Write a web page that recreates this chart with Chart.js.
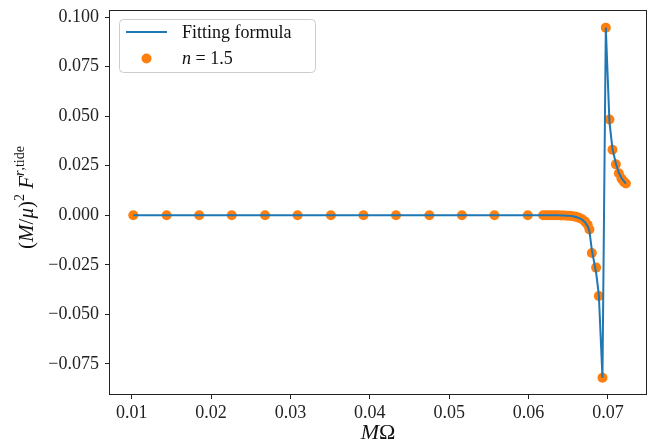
<!DOCTYPE html>
<html lang="en">
<head>
    <meta charset="UTF-8">
    <title>Fitting formula vs n = 1.5</title>
    <script src="https://cdn.jsdelivr.net/npm/chart.js"></script>
    <style>
        body { margin: 0; background: #fff; }
        #wrap { width: 652px; height: 443px; position: relative; }
    </style>
</head>
<body>
    <div id="wrap"><canvas id="chart"></canvas></div>

    <script>
        // M*Omega values of the n = 1.5 points
        var omegaX = [
            0.0102, 0.0144, 0.0185, 0.0226, 0.0268, 0.0309, 0.0351, 0.0392, 0.0433, 0.0475,
            0.0516, 0.0557, 0.0599,
            0.06183, 0.06221, 0.06259, 0.06297, 0.06335, 0.06372, 0.06410, 0.06448, 0.06486,
            0.06523, 0.06561, 0.06599, 0.06637, 0.06675, 0.06712, 0.06744, 0.06767,
            0.06797, 0.06851, 0.06885, 0.06931, 0.06973, 0.07019, 0.07057, 0.07100, 0.07137,
            0.07170, 0.07200, 0.07226
        ];
        // (M/mu)^2 F^{r,tide} of the n = 1.5 points
        var forceN15 = [
            0, 0, 0, 0, 0, 0, 0, 0, 0, 0,
            0, 0, 0,
            0, 0, 0, 0, 0, 0, -0.0001, -0.0001, -0.0002,
            -0.0003, -0.0005, -0.0008, -0.0013, -0.0020, -0.0032, -0.0048, -0.0072,
            -0.0190, -0.0264, -0.0407, -0.0820, 0.0947, 0.0483, 0.0331, 0.0257, 0.0212,
            0.0185, 0.0170, 0.0160
        ];
        // fitting formula evaluated at the same frequencies
        var forceFit = [
            0, 0, 0, 0, 0, 0, 0, 0, 0, 0,
            0, 0, 0,
            0, 0, 0, 0, 0, 0, -0.0001, -0.0001, -0.0002,
            -0.0003, -0.0005, -0.0009, -0.0014, -0.0022, -0.0036, -0.0055, -0.0080,
            -0.0175, -0.0290, -0.0400, -0.0820, 0.0947, 0.0470, 0.0335, 0.0262, 0.0215,
            0.0188, 0.0172, 0.0160
        ];
        var xTicks = [0.01, 0.02, 0.03, 0.04, 0.05, 0.06, 0.07];
        var yTicks = [-0.075, -0.05, -0.025, 0, 0.025, 0.05, 0.075, 0.1];

        var SERIF = "'Liberation Serif', 'DejaVu Serif', serif";
        var BLUE = '#1f77b4';
        var ORANGE = '#ff7f0e';

        // draw a run of text pieces (italic / superscript) one after another
        function drawRuns(ctx, runs, x, y) {
            var cx = x;
            runs.forEach(function (r) {
                ctx.font = (r.it ? 'italic ' : '') + r.size + 'px ' + SERIF;
                ctx.fillText(r.t, cx, y + (r.dy || 0));
                cx += ctx.measureText(r.t).width;
            });
            return cx - x;
        }
        function runsWidth(ctx, runs) {
            var w = 0;
            runs.forEach(function (r) {
                ctx.font = (r.it ? 'italic ' : '') + r.size + 'px ' + SERIF;
                w += ctx.measureText(r.t).width;
            });
            return w;
        }

        // frame, legend inside the axes, and axis titles
        var decorPlugin = {
            id: 'decor',
            afterDraw: function (chart) {
                var ctx = chart.ctx, a = chart.chartArea;
                ctx.save();
                ctx.strokeStyle = '#222';
                ctx.lineWidth = 1;
                ctx.strokeRect(a.left + 0.5, a.top + 0.5, a.right - a.left - 1, a.bottom - a.top - 1);

                // legend
                var lx = 119.5, ly = 19.5, lw = 196, lh = 53;
                ctx.beginPath();
                ctx.roundRect(lx, ly, lw, lh, 4);
                ctx.fillStyle = 'rgba(255,255,255,0.8)';
                ctx.fill();
                ctx.strokeStyle = '#cccccc';
                ctx.stroke();

                ctx.strokeStyle = BLUE;
                ctx.lineWidth = 2;
                ctx.beginPath();
                ctx.moveTo(126, 32);
                ctx.lineTo(167, 32);
                ctx.stroke();
                ctx.fillStyle = ORANGE;
                ctx.beginPath();
                ctx.arc(146.5, 58.5, 5, 0, Math.PI * 2);
                ctx.fill();

                ctx.fillStyle = '#111';
                ctx.textBaseline = 'alphabetic';
                ctx.textAlign = 'left';
                drawRuns(ctx, [{ t: 'Fitting formula', size: 18 }], 182, 38);
                drawRuns(ctx, [{ t: 'n', size: 18, it: true }, { t: ' = 1.5', size: 18 }], 182, 64);

                // x title
                var xr = [{ t: 'M', size: 22, it: true }, { t: 'Ω', size: 22 }];
                var xw = runsWidth(ctx, xr);
                drawRuns(ctx, xr, (a.left + a.right) / 2 - xw / 2, 439);

                // y title (rotated)
                var yr = [
                    { t: '(', size: 21 }, { t: 'M', size: 21, it: true }, { t: '/', size: 21 },
                    { t: 'μ', size: 21, it: true }, { t: ')', size: 21 }, { t: '2', size: 14, dy: -9 },
                    { t: ' ', size: 21 }, { t: 'F', size: 21, it: true },
                    { t: 'r', size: 14, it: true, dy: -9 }, { t: ',tide', size: 14, dy: -9 }
                ];
                var yw = runsWidth(ctx, yr);
                ctx.translate(33, (a.top + a.bottom) / 2 - 5);
                ctx.rotate(-Math.PI / 2);
                drawRuns(ctx, yr, -yw / 2, 0);
                ctx.restore();
            }
        };

        function minusFmt(v, d) {
            var s = Math.abs(v).toFixed(d);
            return (v < -1e-9 ? '\u2212' : '') + s;
        }

        var ctx = document.getElementById('chart').getContext('2d');
        var chart = new Chart(ctx, {
            type: 'scatter',
            data: {
                datasets: [{
                    type: 'line',
                    label: 'Fitting formula',
                    data: omegaX.map(function (x, i) { return { x: x, y: forceFit[i] }; }),
                    borderColor: BLUE,
                    borderWidth: 2,
                    pointRadius: 0,
                    tension: 0,
                    fill: false,
                    order: 0
                }, {
                    label: 'n = 1.5',
                    data: omegaX.map(function (x, i) { return { x: x, y: forceN15[i] }; }),
                    backgroundColor: ORANGE,
                    borderWidth: 0,
                    pointRadius: 5,
                    order: 1
                }]
            },
            options: {
                responsive: true,
                maintainAspectRatio: false,
                animation: false,
                layout: { padding: { top: 10, right: 5, left: 0, bottom: 0 } },
                plugins: { legend: { display: false }, tooltip: { enabled: false } },
                scales: {
                    x: {
                        type: 'linear',
                        min: 0.00714,
                        max: 0.07492,
                        afterBuildTicks: function (s) { s.ticks = xTicks.map(function (v) { return { value: v }; }); },
                        afterFit: function (s) { s.height = 48; s.paddingLeft = 0; s.paddingRight = 0; },
                        border: { display: false },
                        grid: { drawOnChartArea: false, drawTicks: true, tickLength: 4, color: '#222' },
                        ticks: {
                            color: '#222', padding: 3, maxRotation: 0,
                            font: { family: SERIF, size: 18 },
                            callback: function (v) { return minusFmt(v, 2); }
                        }
                    },
                    y: {
                        min: -0.0907,
                        max: 0.1036,
                        afterBuildTicks: function (s) { s.ticks = yTicks.map(function (v) { return { value: v }; }); },
                        afterFit: function (s) { s.width = 109; s.paddingTop = 0; s.paddingBottom = 0; },
                        border: { display: false },
                        grid: { drawOnChartArea: false, drawTicks: true, tickLength: 4, color: '#222' },
                        ticks: {
                            color: '#222', padding: 6,
                            font: { family: SERIF, size: 18 },
                            callback: function (v) { return minusFmt(v, 3); }
                        }
                    }
                }
            },
            plugins: [decorPlugin]
        });
    </script>
</body>
</html>
